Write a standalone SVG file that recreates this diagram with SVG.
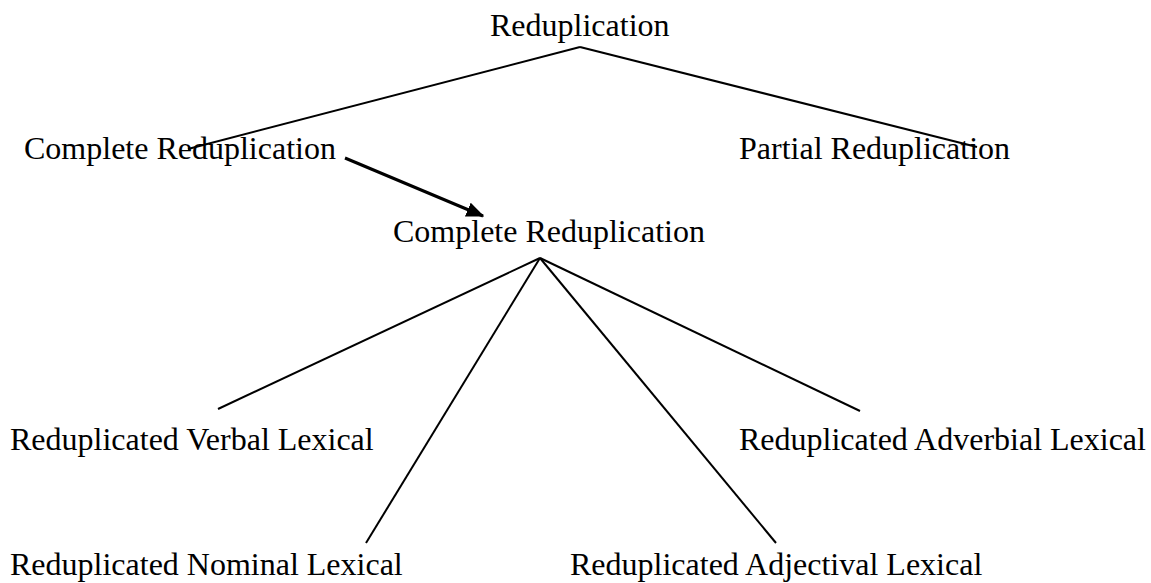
<svg xmlns="http://www.w3.org/2000/svg" width="1151" height="583" viewBox="0 0 1151 583">
<style>
text{font-family:"Liberation Serif","Times New Roman",serif;font-size:32px;fill:#000}
.ln{stroke:#000;stroke-width:2;fill:none}
.ar{stroke:#000;stroke-width:3;fill:none}
</style>
<defs>
<marker id="ah" markerWidth="6" markerHeight="5" refX="5.5" refY="2.5" orient="auto" markerUnits="strokeWidth">
<path d="M0,0 L6,2.5 L0,5 Z" fill="#000"/>
</marker>
</defs>
<rect width="1151" height="583" fill="#fff"/>
<g id="connectors">
<line class="ln" x1="580" y1="47" x2="188" y2="149"/>
<line class="ln" x1="580" y1="47" x2="977" y2="147"/>
<line class="ar" x1="345" y1="158" x2="483" y2="216" marker-end="url(#ah)"/>
<line class="ln" x1="540" y1="258" x2="218" y2="409"/>
<line class="ln" x1="540" y1="258" x2="366" y2="543"/>
<line class="ln" x1="540" y1="258" x2="776" y2="543"/>
<line class="ln" x1="540" y1="258" x2="860" y2="411"/>
</g>
<g id="reduplication"><text x="490" y="36">Reduplication</text></g>
<g id="complete1"><text x="24" y="159">Complete Reduplication</text></g>
<g id="partial"><text x="739" y="159">Partial Reduplication</text></g>
<g id="complete2"><text x="393" y="242">Complete Reduplication</text></g>
<g id="verbal"><text x="10" y="450">Reduplicated Verbal Lexical</text></g>
<g id="adverbial"><text x="739" y="450">Reduplicated Adverbial Lexical</text></g>
<g id="nominal"><text x="10" y="575">Reduplicated Nominal Lexical</text></g>
<g id="adjectival"><text x="570" y="575">Reduplicated Adjectival Lexical</text></g>
</svg>
